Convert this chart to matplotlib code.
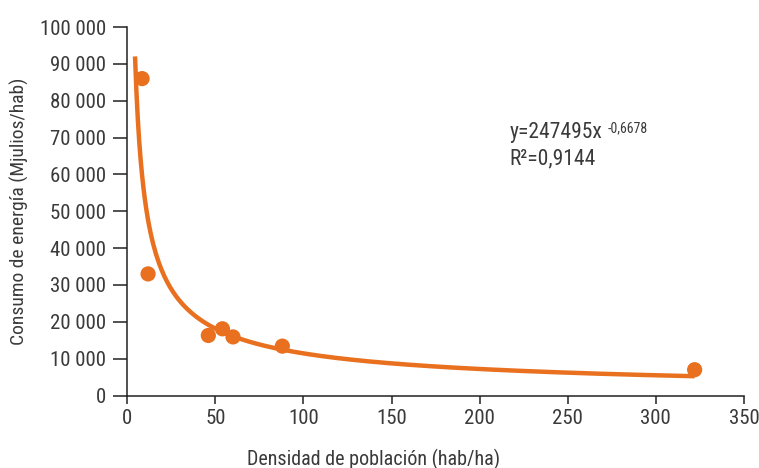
import matplotlib
matplotlib.use("Agg")
import matplotlib.pyplot as plt
import numpy as np

# density (hab/ha) vs energy consumption (MJ/hab)
densidad = [8.4, 11.8, 46, 54, 60, 88, 322]
consumo = [86000, 33000, 16300, 18100, 15900, 13400, 7000]

# trend line as printed on the chart: y = a * x^b
coef_a = 247495
coef_b = -0.6678
r2_text = "0,9144"
trend_x_range = (4.4, 322)

y_ticks = list(range(0, 100001, 10000))
x_ticks = list(range(0, 351, 50))

ORANGE = "#e8701f"
TEXT = "#3a3a3a"
AXIS = "#222222"

plt.rcParams['font.family'] = ['Roboto Condensed', 'DejaVu Sans']

fig = plt.figure(figsize=(7.59, 4.68), dpi=100)
ax = fig.add_axes([0.1677, 0.1549, 0.8125, 0.7874])

xs = np.linspace(trend_x_range[0], trend_x_range[1], 400)
ax.plot(xs, coef_a * xs ** coef_b, color=ORANGE, lw=3.2, solid_capstyle='butt', zorder=2)
ax.scatter(densidad, consumo, s=120, color=ORANGE, edgecolors='none', zorder=3)

ax.set_xlim(0, 350)
ax.set_ylim(0, 100000)
ax.set_xticks(x_ticks)
ax.set_yticks(y_ticks)
ax.set_yticklabels([f"{v:,}".replace(",", " ") for v in y_ticks])

for side in ['top', 'right']:
    ax.spines[side].set_visible(False)
for side in ['left', 'bottom']:
    ax.spines[side].set_color(AXIS)
    ax.spines[side].set_linewidth(1.1)

ax.tick_params(axis='y', length=10, width=1.1, color=AXIS, pad=5,
               labelsize=15, labelcolor=TEXT)
ax.tick_params(axis='x', length=6, width=1.1, color=AXIS, pad=4,
               labelsize=15, labelcolor=TEXT)

ax.set_xlabel("Densidad de población (hab/ha)", fontsize=14.5, color=TEXT)
ax.xaxis.set_label_coords(0.40, -0.145)
ax.set_ylabel("Consumo de energía (Mjulios/hab)", fontsize=14, color=TEXT)
ax.yaxis.set_label_coords(-0.159, 0.5)

eq = ax.text(217, 70000, f"y={coef_a}x", fontsize=15.5, color=TEXT,
             ha='left', va='baseline')
ax.annotate(f"{coef_b}".replace(".", ","), xy=(1, 1), xycoords=eq,
            xytext=(5, 0), textcoords='offset pixels',
            fontsize=10, color=TEXT, ha='left', va='top')
ax.text(217, 62800, f"R²={r2_text}", fontsize=15.5, color=TEXT,
        ha='left', va='baseline')

fig.savefig("out.png", dpi=100)
